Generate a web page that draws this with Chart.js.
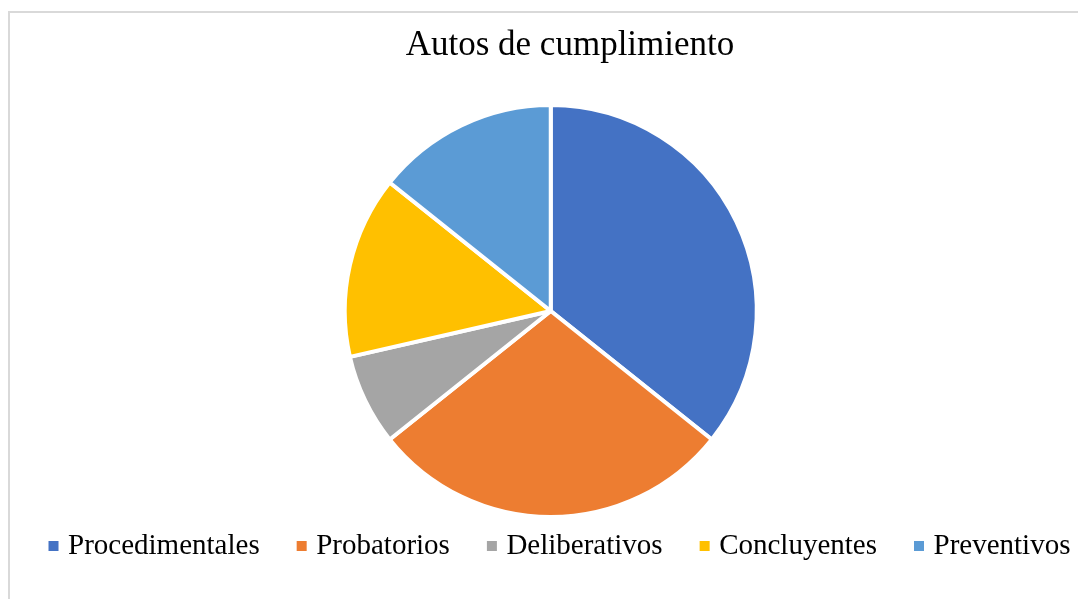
<!DOCTYPE html>
<html>
<head>
    <meta charset="utf-8">
    <title>Autos de cumplimiento</title>
    <script src="https://cdn.jsdelivr.net/npm/chart.js"></script>

    <style>
        html, body {
            margin: 0;
            padding: 0;
            width: 1078px;
            height: 599px;
            overflow: hidden;
            background: #fff;
        }

        .frame {
            position: absolute;
            left: 8px;
            top: 11px;
            width: 1200px;
            height: 700px;
            border-left: 2px solid #d9d9d9;
            border-top: 2px solid #d9d9d9;
        }

        /* wider than the window so the title can sit right of the pie centre */
        .chart-box {
            position: absolute;
            left: 0;
            top: 0;
            width: 1140px;
            height: 599px;
        }
    </style>
</head>

<body>
    <div class="frame"></div>
    <div class="chart-box">
        <canvas id="pie"></canvas>
    </div>

    <script>
        const categories = ["Procedimentales", "Probatorios", "Deliberativos", "Concluyentes", "Preventivos"];
        const counts = [5, 4, 1, 2, 2];

        const serif = "'Liberation Serif', 'Times New Roman', serif";

        const ctx = document.getElementById("pie").getContext("2d");
        new Chart(ctx, {
            type: "pie",
            data: {
                labels: categories,
                datasets: [{
                    data: counts,
                    backgroundColor: ["#4472C4", "#ED7D31", "#A5A5A5", "#FFC000", "#5B9BD5"],
                    borderColor: "#fff",
                    borderWidth: 4,
                    radius: 206,
                    clip: false
                }]
            },
            options: {
                responsive: true,
                maintainAspectRatio: false,
                animation: false,
                layout: {
                    padding: { left: 11.5, right: 11.5, top: 0, bottom: 28.5 }
                },
                plugins: {
                    title: {
                        display: true,
                        text: "Autos de cumplimiento",
                        color: "#000",
                        font: { family: serif, size: 35, weight: "normal" },
                        padding: { top: 25.2, bottom: 65.3 }
                    },
                    // empty box on the right, only to push the pie a bit left
                    subtitle: {
                        display: true,
                        position: "right",
                        fullSize: false,
                        text: "",
                        font: { size: 10 },
                        padding: { top: 13.25, bottom: 13.25 }
                    },
                    legend: {
                        position: "bottom",
                        align: "start",
                        labels: {
                            usePointStyle: true,
                            pointStyle: "rect",
                            boxWidth: 0.01,
                            boxHeight: 14,
                            padding: 42,
                            color: "#000",
                            font: { family: serif, size: 29 }
                        }
                    },
                    tooltip: { enabled: false }
                }
            }
        });
    </script>
</body>
</html>
